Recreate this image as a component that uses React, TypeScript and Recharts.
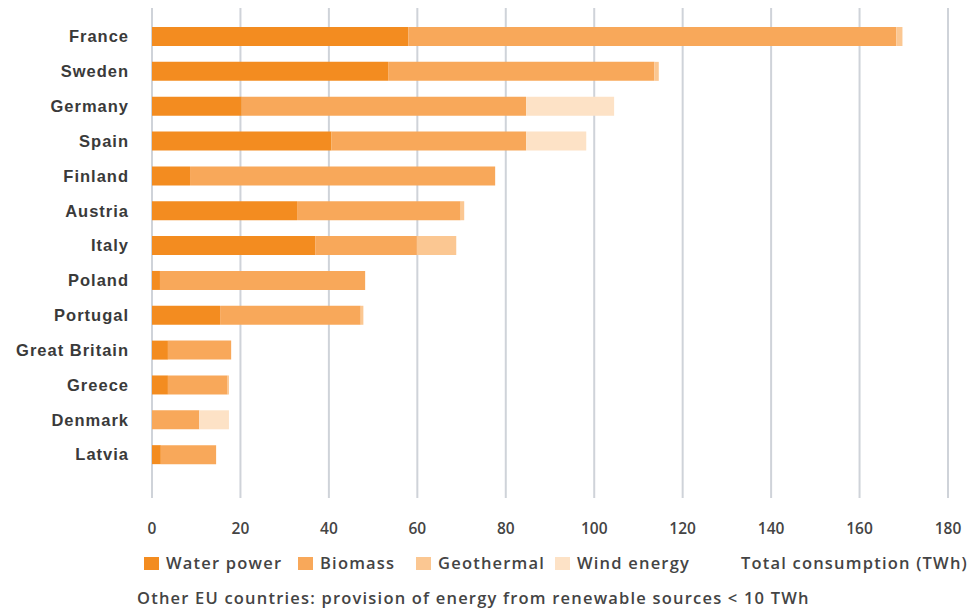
import React from "react";
import { BarChart, Bar, XAxis, YAxis, CartesianGrid, Legend } from "recharts";

const countries = [
  "France", "Sweden", "Germany", "Spain", "Finland", "Austria", "Italy",
  "Poland", "Portugal", "Great Britain", "Greece", "Denmark", "Latvia",
];
const waterPower = [58, 53.4, 20.3, 40.6, 8.6, 32.8, 36.9, 1.8, 15.4, 3.6, 3.6, 0, 2];
const biomass = [110.3, 60.2, 64.3, 44, 69, 37, 23, 46.4, 31.8, 14.3, 13.5, 10.7, 12.5];
const geothermal = [1.4, 1, 0, 0, 0, 0.8, 8.9, 0, 0.6, 0, 0.3, 0, 0];
const windEnergy = [0, 0, 19.9, 13.6, 0, 0, 0, 0, 0, 0, 0, 6.7, 0];
const xTicks = [0, 20, 40, 60, 80, 100, 120, 140, 160, 180];

const series = [
  { key: "water", name: "Water power", color: "#f38c20", values: waterPower },
  { key: "biomass", name: "Biomass", color: "#f8a85a", values: biomass },
  { key: "geo", name: "Geothermal", color: "#fbc792", values: geothermal },
  { key: "wind", name: "Wind energy", color: "#fde2c6", values: windEnergy },
];

const data = countries.map((c, i) => {
  const row: Record<string, string | number> = { country: c };
  series.forEach((s) => (row[s.key] = s.values[i]));
  return row;
});

const FONT = "'Liberation Sans', Arial, sans-serif";
const TEXT_FONT = "'Open Sans', sans-serif";

// left edge of each legend swatch, as laid out in the original
const legendLeft = [144, 298, 416, 555];

function LegendContent() {
  const txt = { fontSize: 16.5, fontWeight: 600, letterSpacing: 1.2, lineHeight: "20px", whiteSpace: "nowrap" } as const;
  return (
    <div style={{ position: "relative", width: 971, height: 80, fontFamily: TEXT_FONT, color: "#444" }}>
      {series.map((s, i) => (
        <span
          key={s.key}
          style={{ position: "absolute", left: legendLeft[i], top: 0, display: "flex", alignItems: "center", ...txt }}
        >
          <span style={{ width: 15, height: 13, background: s.color, marginRight: 7, display: "inline-block" }} />
          {s.name}
        </span>
      ))}
      <div style={{ position: "absolute", right: 3, top: 0, ...txt }}>Total consumption (TWh)</div>
      <div style={{ position: "absolute", left: 137, top: 35, ...txt }}>
        Other EU countries: provision of energy from renewable sources &lt; 10 TWh
      </div>
    </div>
  );
}

export default function App() {
  document.body.style.margin = "0";
  return (
    <div style={{ width: 971, height: 608, background: "#fff" }}>
      <BarChart
        layout="vertical"
        width={971}
        height={608}
        data={data}
        barSize={19}
        margin={{ top: 8, right: 23, left: 0, bottom: 0 }}
      >
        <CartesianGrid horizontal={false} stroke="#cfd3d9" strokeWidth={2} />
        <XAxis
          type="number"
          domain={[0, 180]}
          ticks={xTicks}
          axisLine={false}
          tickLine={false}
          tickMargin={19}
          tick={{ fontSize: 15.5, fill: "#444", fontWeight: 600, fontFamily: TEXT_FONT }}
        />
        <YAxis
          type="category"
          dataKey="country"
          width={152}
          axisLine={false}
          tickLine={false}
          tickSize={0}
          tickMargin={23}
          padding={{ top: 11, bottom: 26 }}
          tick={{ fontSize: 16.5, fill: "#3a3a3a", fontWeight: 700, fontFamily: FONT, letterSpacing: 1 }}
        />
        {series.map((s) => (
          <Bar key={s.key} dataKey={s.key} name={s.name} stackId="a" fill={s.color} isAnimationActive={false} />
        ))}
        <Legend
          content={<LegendContent />}
          wrapperStyle={{ position: "absolute", left: 0, top: 553, width: 971, height: 80 }}
        />
      </BarChart>
    </div>
  );
}
